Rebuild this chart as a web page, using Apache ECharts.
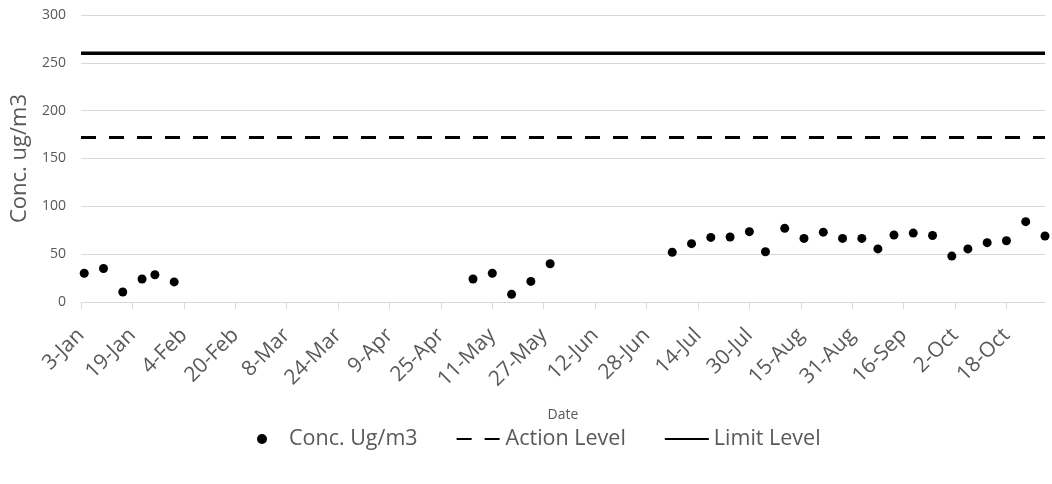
<!DOCTYPE html>
<html>
<head>
<meta charset="utf-8">
<script src="https://cdn.jsdelivr.net/npm/echarts@6/dist/echarts.min.js"></script>
<style>html,body{margin:0;padding:0;background:#fff;}#c{width:1052px;height:484px;}</style>
</head>
<body>
<div id="c"></div>
<script>
// ---- data ----
const axisStart = "2019-01-03";
const axisEnd = "2019-10-30";
const tickStepDays = 16;
const sampleDates = [
  "2019-01-04","2019-01-10","2019-01-16","2019-01-22","2019-01-26","2019-02-01",
  "2019-05-05","2019-05-11","2019-05-17","2019-05-23","2019-05-29",
  "2019-07-06","2019-07-12","2019-07-18","2019-07-24","2019-07-30","2019-08-04",
  "2019-08-10","2019-08-16","2019-08-22","2019-08-28","2019-09-03","2019-09-08",
  "2019-09-13","2019-09-19","2019-09-25","2019-10-01","2019-10-06","2019-10-12",
  "2019-10-18","2019-10-24","2019-10-30"
];
const concValues = [
  30, 35, 10.5, 24, 28.5, 21,
  24, 30, 8, 21.5, 40,
  52, 61, 67.5, 68, 73.5, 52.5,
  77, 66.5, 73, 66.5, 66.5, 55.5,
  70, 72, 69.5, 48, 55.5, 62,
  64, 84, 69
];
const actionLevel = 172;
const limitLevel = 260;
const yTicks = [0, 50, 100, 150, 200, 250, 300];
const monthNames = ["Jan","Feb","Mar","Apr","May","Jun","Jul","Aug","Sep","Oct","Nov","Dec"];

// ---- helpers ----
const DAY = 86400000;
const toMs = s => { const p = s.split("-").map(Number); return Date.UTC(p[0], p[1]-1, p[2]); };
const base = toMs(axisStart);
const toDay = s => Math.round((toMs(s) - base) / DAY);
const endDay = toDay(axisEnd);
const fmt = v => { const d = new Date(base + v * DAY); return d.getUTCDate() + "-" + monthNames[d.getUTCMonth()]; };

const scatterData = sampleDates.map((s, i) => [toDay(s), concValues[i]]);
const font = "'Open Sans', 'Liberation Sans', sans-serif";
const gray = "#595959";

const chart = echarts.init(document.getElementById('c'), null, {renderer: 'canvas'});
chart.setOption({
  animation: false,
  backgroundColor: '#fff',
  grid: {left: 81, right: 7, top: 15, bottom: 182, containLabel: false},
  legend: {
    top: 423,
    left: 252,
    itemGap: 38,
    itemWidth: 44,
    itemHeight: 10,
    textStyle: {fontFamily: font, fontSize: 21.5, color: gray},
    data: [
      {name: 'Conc. Ug/m3', icon: 'circle', itemStyle: {color: '#000', opacity: 1}},
      {name: 'Action Level', itemStyle: {opacity: 0}},
      {name: 'Limit Level', itemStyle: {opacity: 0}}
    ]
  },
  xAxis: {
    type: 'value',
    min: 0,
    max: endDay,
    interval: tickStepDays,
    name: 'Date',
    nameLocation: 'middle',
    nameGap: 106,
    nameTextStyle: {fontFamily: font, fontSize: 14, color: gray},
    axisLine: {show: true, lineStyle: {color: '#d9d9d9', width: 1}},
    axisTick: {show: true, length: 7, lineStyle: {color: '#d9d9d9'}},
    splitLine: {show: false},
    axisLabel: {
      rotate: 45, fontFamily: font, fontSize: 21, color: gray, margin: 30,
      showMaxLabel: false,
      formatter: v => (v % tickStepDays === 0 ? fmt(v) : '')
    }
  },
  yAxis: {
    type: 'value',
    min: yTicks[0],
    max: yTicks[yTicks.length - 1],
    interval: yTicks[1] - yTicks[0],
    name: 'Conc. ug/m3',
    nameLocation: 'middle',
    nameGap: 41,
    nameTextStyle: {fontFamily: font, fontSize: 22, color: gray},
    axisLine: {show: false},
    axisTick: {show: false},
    splitLine: {lineStyle: {color: '#d9d9d9', width: 1}},
    axisLabel: {fontFamily: font, fontSize: 14, color: gray, margin: 15}
  },
  series: [
    {
      name: 'Conc. Ug/m3',
      type: 'scatter',
      symbol: 'circle',
      symbolSize: 9,
      itemStyle: {color: '#000', opacity: 1},
      data: scatterData,
      z: 5
    },
    {
      name: 'Action Level',
      type: 'line',
      symbol: 'none',
      lineStyle: {color: '#000', width: 3, type: [15, 13]},
      itemStyle: {color: '#000'},
      data: [[0, actionLevel], [endDay, actionLevel]]
    },
    {
      name: 'Limit Level',
      type: 'line',
      symbol: 'none',
      lineStyle: {color: '#000', width: 3.5},
      itemStyle: {color: '#000'},
      data: [[0, limitLevel], [endDay, limitLevel]]
    }
  ]
});
</script>
</body>
</html>
